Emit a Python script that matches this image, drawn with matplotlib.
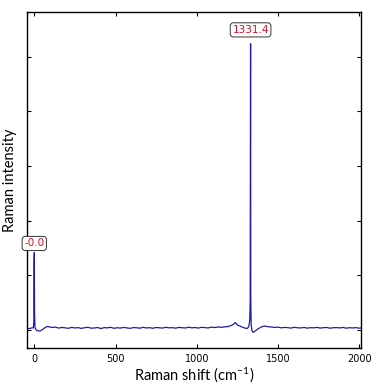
import numpy as np
import matplotlib
matplotlib.use("Agg")
import matplotlib.pyplot as plt

plt.rcParams['mathtext.default'] = 'regular'

# Raman spectrum (shift in cm-1, intensity in arbitrary counts)
shift = [-45, -30, -15, -6, -3, -1.5, 0, 1.5, 4, 10, 20, 35, 50, 65, 80, 95, 110,
         130, 150, 170, 190, 210, 230, 250, 270, 290, 310, 330, 350, 370, 390, 410,
         430, 450, 470, 490, 510, 530, 550, 570, 590, 610, 630, 650, 670, 690, 710,
         730, 750, 770, 790, 810, 830, 850, 870, 890, 910, 930, 950, 970, 990, 1010,
         1030, 1050, 1070, 1090, 1110, 1130, 1150, 1170, 1190, 1210, 1225, 1237, 1250,
         1265, 1280, 1295, 1310, 1320, 1326, 1329, 1330.4, 1331.4, 1332.6, 1335, 1340,
         1348, 1360, 1375, 1390, 1405, 1420, 1440, 1460, 1480, 1500, 1520, 1540, 1560,
         1580, 1600, 1620, 1640, 1660, 1680, 1700, 1720, 1740, 1760, 1780, 1800, 1820,
         1840, 1860, 1880, 1900, 1920, 1940, 1960, 1980, 2000, 2010]
intensity = [1035, 1028, 1042, 1040, 1150, 2220, 2420, 1300, 1050, 1010, 990, 985, 1010,
             1045, 1068, 1058, 1050, 1056, 1038, 1050, 1042, 1034, 1050, 1040, 1046, 1032,
             1045, 1052, 1036, 1040, 1048, 1030, 1046, 1042, 1052, 1034, 1044, 1038, 1050,
             1041, 1033, 1047, 1044, 1036, 1052, 1040, 1045, 1035, 1049, 1043, 1038, 1052,
             1042, 1046, 1036, 1050, 1044, 1040, 1054, 1043, 1048, 1038, 1052, 1046, 1041,
             1055, 1048, 1058, 1052, 1060, 1064, 1082, 1105, 1140, 1095, 1076, 1055, 1040,
             1030, 1060, 1170, 1500, 4400, 6236, 1600, 1100, 990, 960, 985, 1020, 1045,
             1068, 1075, 1062, 1058, 1050, 1055, 1042, 1050, 1046, 1038, 1052, 1044, 1040,
             1050, 1036, 1046, 1042, 1051, 1038, 1045, 1049, 1036, 1044, 1047, 1040, 1050,
             1036, 1045, 1040, 1046, 1036, 1040]

peak_labels = ["-0.0", "1331.4"]
peak_shift = [0, 1331.4]
peak_height = [2420, 6236]
label_offset = [6.5, 10]

xticks = [0, 500, 1000, 1500, 2000]
yticks = [1000, 2000, 3000, 4000, 5000, 6000]

fig = plt.figure(figsize=(3.75, 3.85), dpi=100)
ax = fig.add_axes([0.072, 0.096, 0.891, 0.873])

ax.plot(shift, intensity, color="#1c1ca8", lw=0.9)

for lab, xs, ys, off in zip(peak_labels, peak_shift, peak_height, label_offset):
    ax.annotate(lab, xy=(xs, ys), xytext=(0, off), textcoords="offset points",
                ha="center", va="center", fontsize=7.5, color="#d0103a",
                family="DejaVu Sans",
                bbox=dict(boxstyle="round,pad=0.2,rounding_size=0.3",
                          fc="#fffff8", ec="#333333", lw=0.7))

ax.set_xlim(-45, 2012)
ax.set_ylim(673, 6818)
ax.set_xticks(xticks)
ax.set_yticks(yticks)
ax.set_yticklabels([])
ax.tick_params(direction="in", length=3, width=0.8, top=True, right=True,
               labelsize=7, pad=4)
for sp in ax.spines.values():
    sp.set_linewidth(1.0)

ax.set_xlabel("Raman shift (cm$^{-1}$)", family="Lato", fontsize=10.5, labelpad=1)
ax.set_ylabel("Raman intensity", family="Lato", fontsize=10.5, labelpad=3)

fig.savefig("out.png", dpi=100)
